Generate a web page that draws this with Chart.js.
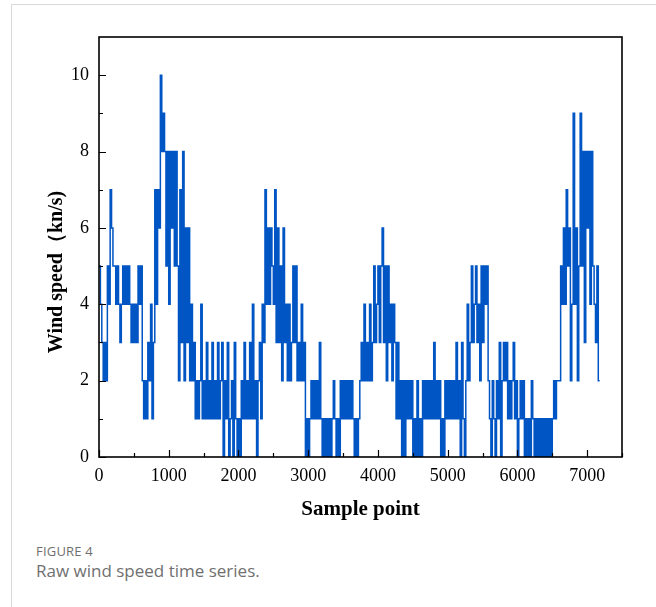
<!DOCTYPE html>
<html>
<head>
<meta charset="utf-8">
<script src="https://cdn.jsdelivr.net/npm/chart.js@4"></script>
<style>
  html, body { margin: 0; padding: 0; background: #fff; }
  body { width: 656px; height: 607px; position: relative; overflow: hidden; }
  #card { position: absolute; left: 11px; top: 4px; width: 700px; height: 700px; border: 1px solid #d9d9d9; }
  #wrap { position: absolute; left: 0; top: 0; width: 656px; height: 530px; }
  .cap { position: absolute; left: 36px; font-family: "Open Sans", "Noto Sans", sans-serif; color: #6f6f6f; }
  #fig { top: 542px; font-size: 13px; letter-spacing: 0.2px; }
  #desc { top: 559px; font-size: 17px; }
</style>
</head>
<body>
<div id="card"></div>
<div id="wrap"><canvas id="chart"></canvas></div>
<div class="cap" id="fig">FIGURE 4</div>
<div class="cap" id="desc">Raw wind speed time series.</div>
<script>
// Raw wind speed (kn/s), every 20 sample points.
const sampleStep = 20;
const windSpeed = [
  5, 4, 3, 2, 3, 2, 5, 4, 7, 6, 5, 5, 4, 5, 4, 3, 4, 5, 4, 5,    // 0-380
  4, 5, 4, 3, 4, 3, 4, 3, 5, 4, 5, 2, 1, 2, 1, 3, 2, 4, 1, 3,    // 400-780
  7, 4, 7, 6, 10, 8, 9, 8, 5, 8, 4, 8, 6, 8, 5, 8, 5, 2, 7, 3,   // 800-1180
  8, 2, 6, 3, 6, 2, 4, 2, 3, 1, 2, 1, 2, 4, 1, 2, 1, 3, 1, 2,    // 1200-1580
  1, 3, 1, 2, 1, 3, 1, 2, 3, 0, 2, 1, 3, 0, 1, 2, 0, 3, 1, 0,    // 1600-1980
  1, 0, 2, 1, 3, 1, 2, 1, 3, 1, 4, 1, 2, 0, 2, 3, 1, 4, 3, 7,    // 2000-2380
  4, 6, 4, 6, 5, 4, 7, 3, 6, 3, 5, 2, 6, 3, 4, 2, 4, 2, 3, 5,    // 2400-2780
  3, 5, 2, 3, 2, 4, 2, 3, 0, 1, 0, 1, 2, 1, 2, 1, 2, 1, 3, 1,    // 2800-3180
  0, 1, 0, 1, 0, 1, 0, 1, 2, 1, 0, 1, 0, 2, 1, 2, 1, 2, 1, 2,    // 3200-3580
  1, 2, 1, 0, 1, 0, 1, 2, 3, 2, 4, 2, 3, 2, 4, 2, 3, 5, 3, 4,    // 3600-3980
  5, 3, 5, 6, 3, 5, 2, 5, 3, 4, 2, 4, 3, 1, 3, 1, 2, 0, 2, 0,    // 4000-4380
  2, 1, 2, 1, 2, 0, 1, 0, 2, 0, 1, 0, 2, 1, 2, 1, 2, 1, 2, 1,    // 4400-4780
  3, 1, 2, 1, 2, 0, 1, 0, 2, 1, 2, 1, 2, 1, 2, 1, 3, 1, 2, 0,    // 4800-5180
  3, 1, 0, 2, 4, 2, 3, 5, 3, 4, 5, 3, 4, 2, 5, 3, 5, 4, 5, 2,    // 5200-5580
  1, 0, 2, 1, 0, 2, 1, 3, 0, 2, 3, 2, 3, 1, 2, 1, 2, 3, 1, 2,    // 5600-5980
  0, 1, 2, 1, 2, 0, 1, 0, 1, 0, 2, 1, 0, 1, 0, 1, 0, 1, 0, 1,    // 6000-6380
  0, 1, 0, 1, 0, 1, 2, 1, 2, 2, 2, 5, 4, 6, 4, 7, 5, 6, 2, 4,    // 6400-6780
  9, 4, 6, 2, 5, 9, 5, 8, 3, 8, 6, 8, 4, 8, 5, 4, 3, 5, 2, 2     // 6800-7180
];
const xTicks = [0, 1000, 2000, 3000, 4000, 5000, 6000, 7000];
const xMinorTicks = [500, 1500, 2500, 3500, 4500, 5500, 6500, 7500];
const yTicks = [0, 2, 4, 6, 8, 10];
const yMinorTicks = [1, 3, 5, 7, 9];
const yTitle = "Wind speed（kn/s)";

const points = windSpeed.map((v, i) => ({ x: i * sampleStep, y: v }));

const serif = "'Liberation Serif', 'Times New Roman', serif";

// Frame box, inward tick marks and the y title (sits a little below the
// axis centre in the figure, so it is drawn here rather than by Chart.js).
const frameTicks = {
  id: "frameTicks",
  afterDraw(chart) {
    const { ctx, chartArea: a, scales } = chart;
    ctx.save();
    ctx.strokeStyle = "#000";
    ctx.lineWidth = 1.2;
    ctx.beginPath();
    for (const v of xTicks) { const x = Math.round(scales.x.getPixelForValue(v)) + 0.5; ctx.moveTo(x, a.bottom); ctx.lineTo(x, a.bottom - 7); }
    for (const v of xMinorTicks) { const x = Math.round(scales.x.getPixelForValue(v)) + 0.5; ctx.moveTo(x, a.bottom); ctx.lineTo(x, a.bottom - 4); }
    for (const v of yTicks) { const y = Math.round(scales.y.getPixelForValue(v)) + 0.5; ctx.moveTo(a.left, y); ctx.lineTo(a.left + 7, y); }
    for (const v of yMinorTicks) { const y = Math.round(scales.y.getPixelForValue(v)) + 0.5; ctx.moveTo(a.left, y); ctx.lineTo(a.left + 4, y); }
    ctx.stroke();
    ctx.lineWidth = 1.6;
    ctx.strokeRect(a.left, a.top, a.right - a.left, a.bottom - a.top);

    ctx.translate(57, 272);
    ctx.rotate(-Math.PI / 2);
    ctx.fillStyle = "#000";
    ctx.font = "bold 20px " + serif;
    ctx.textAlign = "center";
    ctx.textBaseline = "middle";
    ctx.fillText(yTitle, 0, 0);
    ctx.restore();
  },
};

new Chart(document.getElementById("chart"), {
  type: "line",
  data: {
    datasets: [{
      data: points,
      borderColor: "#0055c4",
      borderWidth: 1.5,
      pointRadius: 0,
      stepped: true,
      fill: false,
    }],
  },
  options: {
    responsive: true,
    maintainAspectRatio: false,
    animation: false,
    events: [],
    layout: { padding: { left: 0, right: 34, top: 37, bottom: 0 } },
    plugins: { legend: { display: false }, tooltip: { enabled: false } },
    scales: {
      x: {
        type: "linear",
        min: 0,
        max: 7500,
        grid: { display: false, drawTicks: false },
        border: { display: false },
        afterBuildTicks(scale) { scale.ticks = xTicks.map((v) => ({ value: v })); },
        ticks: { color: "#000", padding: 8, font: { family: serif, size: 18 }, callback: (v) => String(v) },
        title: { display: true, text: "Sample point", color: "#000", font: { family: serif, size: 21, weight: "bold" }, padding: { top: 0, bottom: 8 } },
        afterFit(scale) { scale.height = 73; },
      },
      y: {
        min: 0,
        max: 11,
        grid: { display: false, drawTicks: false },
        border: { display: false },
        afterBuildTicks(scale) { scale.ticks = yTicks.map((v) => ({ value: v })); },
        ticks: { color: "#000", padding: 10, font: { family: serif, size: 18 }, callback: (v) => String(v) },
        afterFit(scale) { scale.width = 99; },
      },
    },
  },
  plugins: [frameTicks],
});
</script>
</body>
</html>
